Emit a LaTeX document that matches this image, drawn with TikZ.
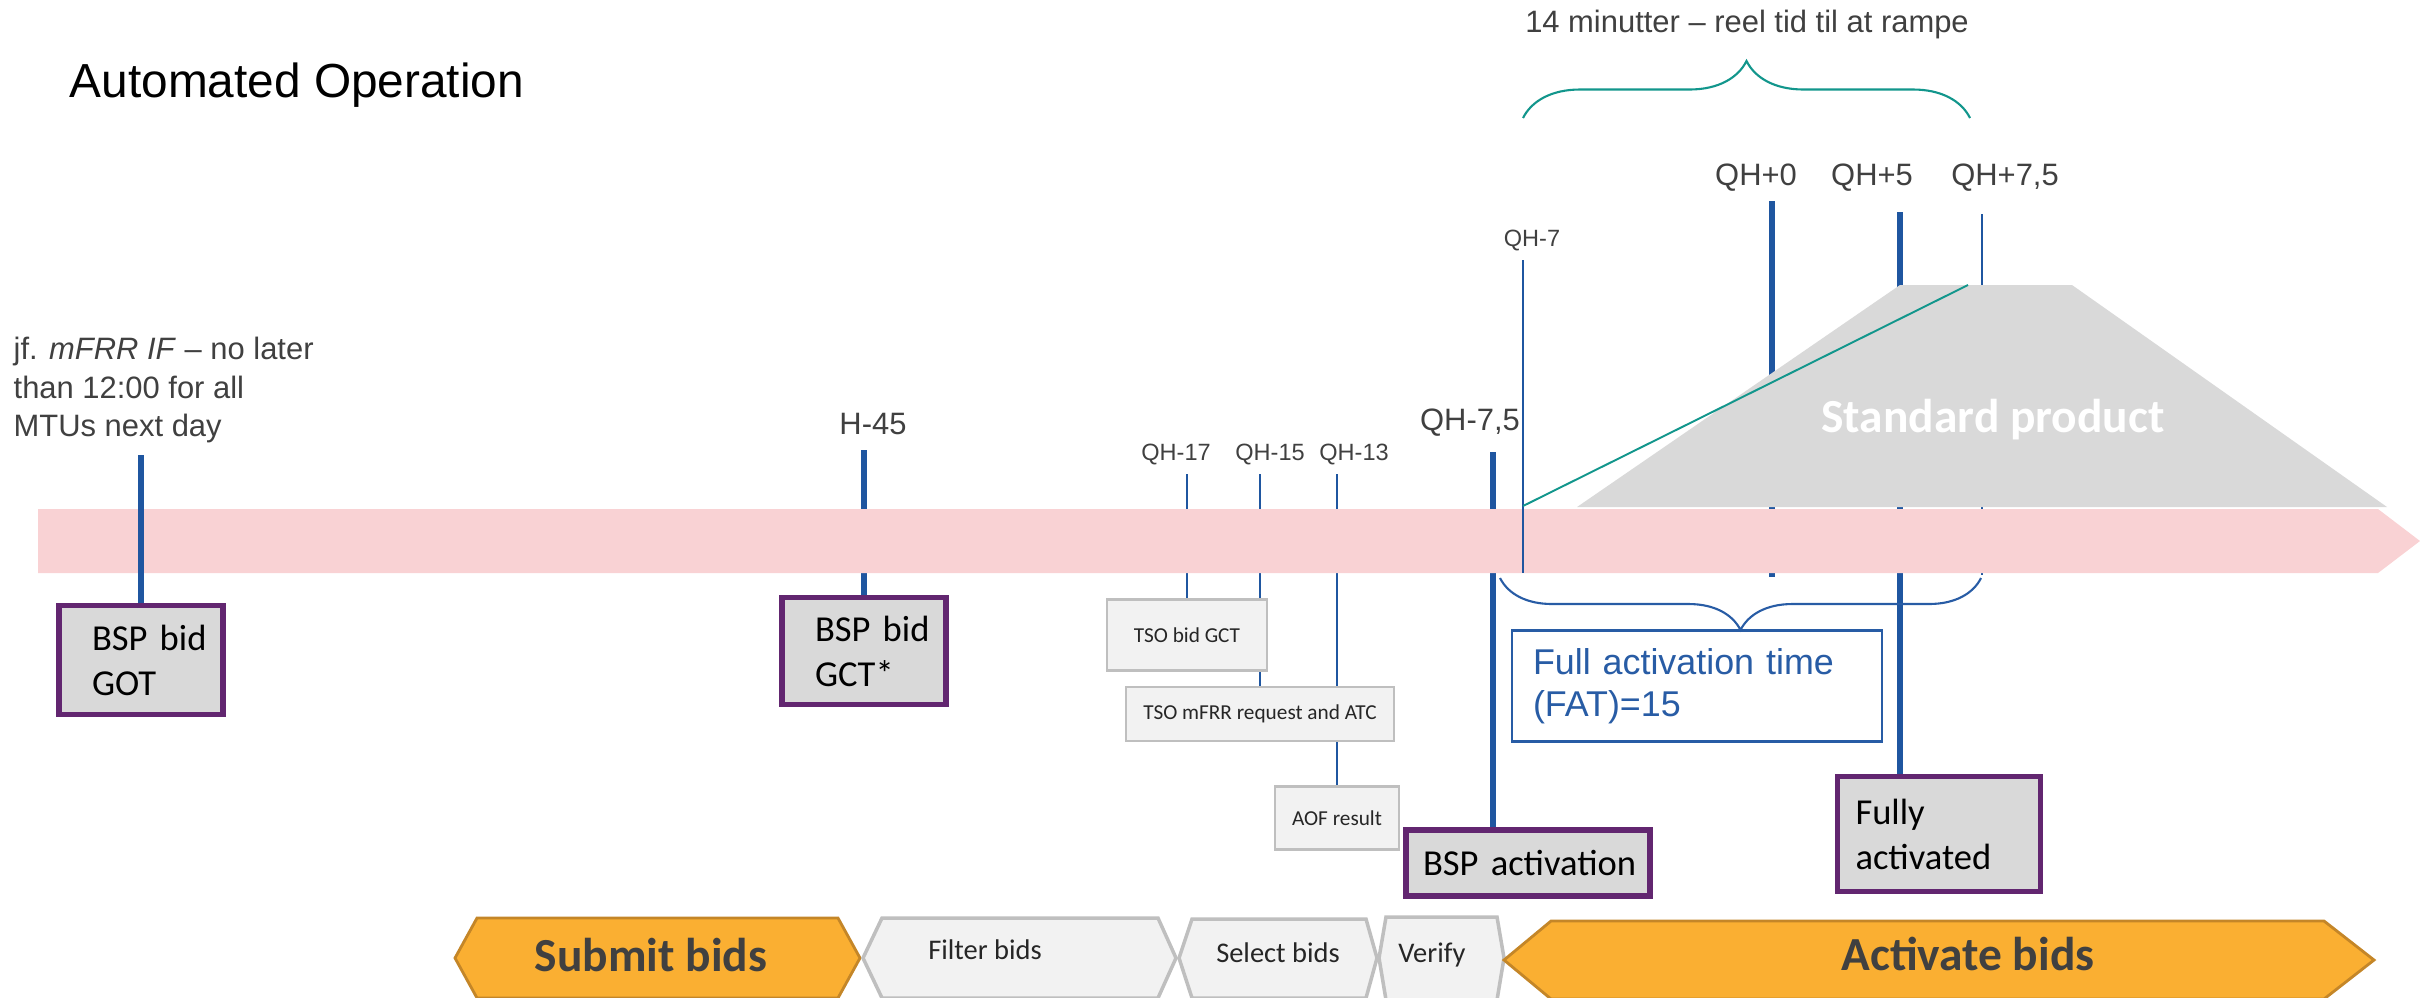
\documentclass[tikz,border=0pt]{standalone}
\usepackage{fontspec}
\setmainfont{Liberation Sans}
\newfontfamily\carlito{Carlito}
\usetikzlibrary{positioning,calc,backgrounds,decorations.pathreplacing}
\definecolor{mfBlue}{RGB}{31,86,160}
\definecolor{mfPurple}{RGB}{98,38,112}
\definecolor{mfPink}{RGB}{249,210,212}
\definecolor{mfTeal}{RGB}{18,150,140}
\definecolor{mfFat}{RGB}{40,92,165}
\definecolor{mfBoxGray}{RGB}{217,217,217}
\definecolor{mfLight}{RGB}{242,242,242}
\definecolor{mfLine}{RGB}{191,191,191}
\definecolor{mfOrange}{RGB}{250,175,50}
\definecolor{mfOrangeDark}{RGB}{196,134,40}
\definecolor{mfText}{RGB}{64,64,64}
\tikzset{
    base/.style={inner sep=0pt, text=mfText},
    title/.style={base, text=black, font=\fontsize{13.6}{16}\selectfont},
    note/.style={base, align=left, font=\fontsize{8.8}{11}\selectfont},
    timelbl/.style={base, font=\fontsize{8.8}{10.5}\selectfont},
    timesmall/.style={base, font=\fontsize{6.7}{8}\selectfont},
    tickbold/.style={draw=mfBlue, line width=1.6pt},
    tickfine/.style={draw=mfBlue, line width=0.55pt},
    bspbox/.style={draw=mfPurple, line width=1.5pt, fill=mfBoxGray, inner sep=0pt,
                   align=left, text=black, font=\carlito\fontsize{10.4}{12.8}\selectfont},
    tsobox/.style={draw=mfLine, line width=0.6pt, fill=mfLight, inner sep=0pt,
                   text=black!85, font=\carlito\fontsize{6.05}{7}\selectfont},
    fatbox/.style={draw=mfFat, line width=0.6pt, fill=white, inner sep=0pt,
                   align=left, text=mfFat, font=\fontsize{10.2}{12}\selectfont},
    band/.style={fill=mfPink},
    product/.style={fill=mfBoxGray},
    ramp/.style={draw=mfTeal, line width=0.55pt},
    rampbrace/.style={decorate, decoration={brace, amplitude=5.7mm}, draw=mfTeal, line width=0.6pt},
    fatbrace/.style={decorate, decoration={brace, amplitude=5.2mm}, draw=mfFat, line width=0.6pt},
    phase/.style={draw=mfOrangeDark, line width=0.8pt, fill=mfOrange},
    phaselbl/.style={base, font=\carlito\bfseries\fontsize{13.5}{16}\selectfont},
    stepbox/.style={draw=mfLine, line width=1pt, fill=mfLight},
    steplbl/.style={base, text=black!85, font=\carlito\fontsize{8.1}{10}\selectfont}
}

\begin{document}
\begin{tikzpicture}[x=0.1mm, y=-0.1mm]
  \useasboundingbox (0,0) rectangle (2420,997);

  % Time band and standard product
  \fill[band] (38,509) -- (2378,509) -- (2420,541) -- (2378,573) -- (38,573) -- cycle;
  \fill[product] (1577,507) -- (1900,285) -- (2072,285) -- (2387,507) -- cycle;
  \node[base, text=white, font=\carlito\bfseries\fontsize{13.5}{16}\selectfont, anchor=base] (prod) at (1993,432) {Standard product};

  % Title and notes
  \node[title, anchor=base west] (title) at (69,97) {Automated Operation};
  \node[note, anchor=west] (ifnote) at (13,390) {jf. \textit{mFRR IF} – no later\\than 12:00 for all\\MTUs next day};
  \node[timelbl, anchor=base] (ramplbl) at (1747,32) {14 minutter – reel tid til at rampe};

  % Time labels
  \node[timelbl, anchor=base] (lH45) at (873,434) {H-45};
  \node[timesmall, anchor=base] (lQH17) at (1176,460) {QH-17};
  \node[timesmall, anchor=base] (lQH15) at (1270,460) {QH-15};
  \node[timesmall, anchor=base] (lQH13) at (1354,460) {QH-13};
  \node[timelbl, anchor=base] (lQH75m) at (1470,430) {QH-7,5};
  \node[timesmall, anchor=base] (lQH7) at (1532,246) {QH-7};
  \node[timelbl, anchor=base] (lQH0) at (1756,185) {QH+0};
  \node[timelbl, anchor=base] (lQH5) at (1872,185) {QH+5};
  \node[timelbl, anchor=base] (lQH75p) at (2005,185) {QH+7,5};

  % Event boxes
  \node[bspbox, minimum width=16.4mm, minimum height=10.9mm, text width=9.8mm] (got) at (141,660) {\mbox{BSP bid}\\GOT};
  \node[bspbox, minimum width=16.4mm, minimum height=10.7mm, text width=9.8mm] (gct) at (864,651) {\mbox{BSP bid}\\GCT*};
  \node[tsobox, minimum width=16mm, minimum height=7.1mm] (tsogct) at (1187,635) {TSO bid GCT};
  \node[tsobox, minimum width=26.8mm, minimum height=5.4mm] (tsoreq) at (1260,714) {TSO mFRR request and ATC};
  \node[tsobox, minimum width=12.4mm, minimum height=6.3mm] (aof) at (1337,818) {AOF result};
  \node[bspbox, minimum width=24.4mm, minimum height=6.6mm, text width=21mm] (bspact) at (1528,863) {\mbox{BSP activation}};
  \node[bspbox, minimum width=20.3mm, minimum height=11.5mm, text width=16.7mm] (fully) at (1939,834) {Fully\\activated};
  \node[fatbox, minimum width=37mm, minimum height=11.1mm, text width=32.8mm] (fat) at (1697,686) {Full activation time\\(FAT)=15};

  % Phases
  \filldraw[phase] (455,958) -- (477,918) -- (838,918) -- (860,958) -- (838,998) -- (477,998) -- cycle;
  \filldraw[stepbox] (863,958) -- (882,918) -- (1158,918) -- (1176,958) -- (1158,998) -- (882,998) -- cycle;
  \filldraw[stepbox] (1179,958) -- (1192,919) -- (1366,919) -- (1377,958) -- (1366,998) -- (1192,998) -- cycle;
  \filldraw[stepbox] (1379,958) -- (1386,917) -- (1497,917) -- (1504,958) -- (1497,1000) -- (1386,1000) -- cycle;
  \filldraw[phase] (1504,960) -- (1551,921) -- (2324,921) -- (2374,960) -- (2324,999) -- (1551,999) -- cycle;
  \node[phaselbl, anchor=base] (submit) at (651,971) {Submit bids};
  \node[steplbl, anchor=base] (filter) at (985,959) {Filter bids};
  \node[steplbl, anchor=base] (select) at (1278,962) {Select bids};
  \node[steplbl, anchor=base] (verify) at (1432,962) {Verify};
  \node[phaselbl, anchor=base] (activate) at (1968,970) {Activate bids};

  % Tick ends
  \coordinate (tGOT) at (141,455);
  \coordinate (tH45) at (864,450);
  \coordinate (tQH17) at (1187,474);
  \coordinate (tQH15) at (1260,474);
  \coordinate (tQH13) at (1337,474);
  \coordinate (tQH75m) at (1493,452);
  \coordinate (tQH7) at (1523,260);
  \coordinate (bQH7) at (1523,573);
  \coordinate (tQH0) at (1772,201);
  \coordinate (bQH0) at (1772,577);
  \coordinate (tQH5) at (1900,212);
  \coordinate (tQH75p) at (1982,214);
  \coordinate (bQH75p) at (1982,575);

  % Ticks behind the band
  \begin{scope}[on background layer]
    \draw[tickbold] (tH45) -- (gct);
    \draw[tickfine] (tQH17) -- (tsogct);
    \draw[tickfine] (tQH15) -- (tsoreq);
    \draw[tickfine] (tQH13) -- (aof);
    \draw[tickbold] (tQH75m) -- (tQH75m |- bspact.north);
    \draw[tickbold] (tQH0) -- (bQH0);
    \draw[tickbold] (tQH5) -- (tQH5 |- fully.north);
    \draw[tickfine] (tQH75p) -- (bQH75p);
  \end{scope}

  % Ticks over the band
  \draw[tickbold] (tGOT) -- (got);
  \draw[tickfine] (tQH7) -- (bQH7);

  % Ramp and braces
  \coordinate (rampstart) at (1523,506);
  \coordinate (rampend) at (1968,285);
  \draw[ramp] (rampstart) -- (rampend);
  \coordinate (rb1) at (1523,118);
  \coordinate (rb2) at (1970,118);
  \draw[rampbrace] (rb1) -- (rb2);
  \coordinate (fb1) at (1981,578);
  \coordinate (fb2) at (1500,578);
  \draw[fatbrace] (fb1) -- (fb2);
\end{tikzpicture}
\end{document}
